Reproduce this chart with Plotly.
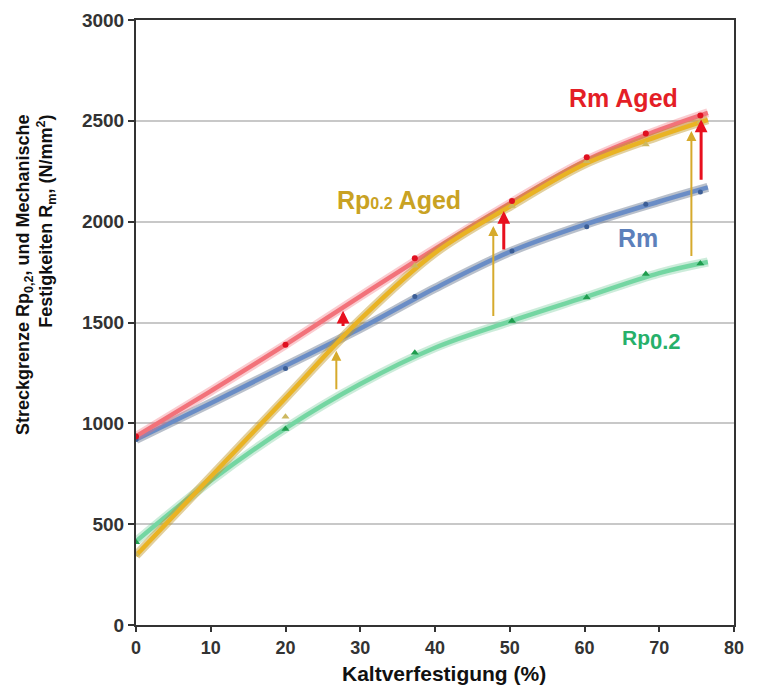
import plotly.graph_objects as go

# ---- data ----
curve_x = [0, 10, 20, 30, 40, 50, 60, 70, 76.5]
rm_aged_curve = [935, 1160, 1390, 1630, 1865, 2090, 2300, 2455, 2540]
rp_aged_curve = [345, 735, 1125, 1515, 1845, 2075, 2285, 2425, 2505]
rm_curve = [920, 1100, 1285, 1470, 1670, 1850, 1985, 2100, 2170]
rp_curve = [415, 715, 975, 1195, 1375, 1505, 1625, 1745, 1800]

meas_x = [0, 20, 37.3, 50.3, 60.3, 68.2, 75.5]
rm_aged_pts = [935, 1390, 1819, 2103, 2320, 2437, 2527]
rp_aged_pts = [350, 1033, 1781, 2078, 2300, 2383, 2495]
rm_pts = [920, 1272, 1629, 1855, 1975, 2086, 2147]
rp_pts = [410, 972, 1350, 1508, 1624, 1740, 1792]

arrow_yel_x = [26.8, 47.8, 74.3]
arrow_yel_from = [1162, 1525, 1822]
arrow_yel_to = [1360, 1979, 2449]
arrow_red_x = [27.7, 49.2, 75.6]
arrow_red_from = [1475, 1855, 2201]
arrow_red_to = [1558, 2053, 2507]

x_ticks = [0, 10, 20, 30, 40, 50, 60, 70, 80]
y_ticks = [0, 500, 1000, 1500, 2000, 2500, 3000]

FONT = "Liberation Sans, Arial, sans-serif"
SMOOTH = 1.0

fig = go.Figure()

def curve(y, core, glow, wcore=4.5, wglow=9):
    fig.add_trace(go.Scatter(x=curve_x, y=y, mode="lines",
                             line=dict(color=glow, width=wglow, shape="spline", smoothing=SMOOTH),
                             hoverinfo="skip", showlegend=False))
    fig.add_trace(go.Scatter(x=curve_x, y=y, mode="lines",
                             line=dict(color=core, width=wcore, shape="spline", smoothing=SMOOTH),
                             hoverinfo="skip", showlegend=False))

curve(rp_curve, "#74d6a2", "rgba(110,200,150,0.35)")
curve(rm_curve, "#6a8dc6", "rgba(100,115,140,0.45)")
curve(rm_aged_curve, "#f2727a", "rgba(240,110,120,0.35)")
curve(rp_aged_curve, "#e9b324", "rgba(190,150,40,0.45)")

fig.add_trace(go.Scatter(x=meas_x, y=rp_pts, mode="markers",
                         marker=dict(symbol="triangle-up", size=7, color="#1f9c4e"), showlegend=False))
fig.add_trace(go.Scatter(x=meas_x, y=rm_pts, mode="markers",
                         marker=dict(symbol="circle", size=5, color="#3c5e96"), showlegend=False))
fig.add_trace(go.Scatter(x=meas_x, y=rp_aged_pts, mode="markers",
                         marker=dict(symbol="triangle-up", size=7, color="#cdb860"), showlegend=False))
fig.add_trace(go.Scatter(x=meas_x, y=rm_aged_pts, mode="markers",
                         marker=dict(symbol="circle", size=6, color="#e01020"), showlegend=False))

annotations = []
for xv, y0, y1 in zip(arrow_yel_x, arrow_yel_from, arrow_yel_to):
    annotations.append(dict(x=xv, y=y1, ax=xv, ay=y0, xref="x", yref="y", axref="x", ayref="y",
                            showarrow=True, arrowhead=2, arrowsize=1.0, arrowwidth=2,
                            arrowcolor="#d6aa2c", text=""))
for xv, y0, y1 in zip(arrow_red_x, arrow_red_from, arrow_red_to):
    annotations.append(dict(x=xv, y=y1, ax=xv, ay=y0, xref="x", yref="y", axref="x", ayref="y",
                            showarrow=True, arrowhead=2, arrowsize=0.85, arrowwidth=3,
                            arrowcolor="#e8101e", text=""))

annotations += [
    dict(x=65.2, y=2612, xref="x", yref="y", text="Rm Aged", showarrow=False,
         font=dict(family=FONT, size=25, color="#e41e26", weight="bold")),
    dict(x=35.2, y=2107, xref="x", yref="y",
         text="Rp<span style='font-size:16px'>0.2</span> Aged", showarrow=False,
         font=dict(family=FONT, size=25, color="#c9a223", weight="bold")),
    dict(x=67.2, y=1919, xref="x", yref="y", text="Rm", showarrow=False,
         font=dict(family=FONT, size=25, color="#5c80bb", weight="bold")),
    dict(x=69.0, y=1415, xref="x", yref="y",
         text="Rp<sub><span style='font-size:22px'>0.2</span></sub>", showarrow=False,
         font=dict(family=FONT, size=21, color="#26b06a", weight="bold")),
    dict(x=-0.168, y=(625 - 112) / 605, xref="paper", yref="paper", xanchor="center", yanchor="top",
         textangle=-90, align="right", showarrow=False,
         text="Streckgrenze Rp<sub>0,2</sub>, und Mechanische<br>Festigkeiten R<sub>m</sub>, (N/mm<sup>2</sup>)",
         font=dict(family=FONT, size=18, color="#111111", weight="bold")),
    dict(x=(444 - 136) / 598, y=(625 - 673) / 605, xref="paper", yref="paper",
         xanchor="center", yanchor="middle",
         text="Kaltverfestigung (%)", showarrow=False,
         font=dict(family=FONT, size=21, color="#111111", weight="bold")),
]

fig.update_layout(
    width=758, height=693,
    margin=dict(l=128, r=32, t=12, b=76, autoexpand=False),
    paper_bgcolor="white", plot_bgcolor="white",
    showlegend=False,
    annotations=annotations,
    xaxis=dict(range=[0, 80], tickvals=x_ticks, showgrid=False, zeroline=False, automargin=False,
               showline=True, linecolor="#333333", linewidth=2, mirror=True,
               ticks="outside", ticklen=5, tickcolor="#333333", tickwidth=2,
               tickfont=dict(family=FONT, size=18, color="#333333", weight="bold")),
    yaxis=dict(range=[0, 3000], tickvals=y_ticks, showgrid=True, gridcolor="#c8c8c8", gridwidth=1.5,
               zeroline=False, automargin=False,
               showline=True, linecolor="#333333", linewidth=2, mirror=True,
               ticks="outside", ticklen=6, tickcolor="#333333", tickwidth=2,
               tickfont=dict(family=FONT, size=19, color="#333333", weight="bold")),
)

fig.write_html("out.html")
